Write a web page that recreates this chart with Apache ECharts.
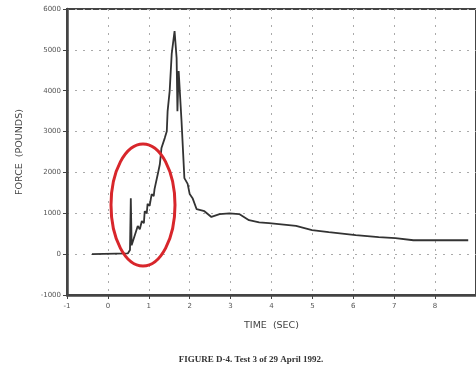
<!DOCTYPE html>
<html><head><meta charset="utf-8">
<script src="https://cdn.jsdelivr.net/npm/echarts@6/dist/echarts.min.js"></script>
<style>html,body{margin:0;padding:0;background:#fff}#c{width:476px;height:368px}</style>
</head><body><div id="c"></div>
<script>
const timeSec = [-0.39,0.49,0.54,0.56,0.58,0.61,0.73,0.78,0.83,0.88,0.90,0.95,0.97,1.02,1.07,1.12,1.14,1.22,1.27,1.31,1.39,1.44,1.46,1.51,1.56,1.63,1.68,1.70,1.73,1.80,1.87,1.95,2.00,2.07,2.17,2.36,2.53,2.73,2.97,3.21,3.45,3.70,3.94,4.18,4.60,4.99,5.40,6.06,6.62,7.03,7.47,8.00,8.81];
const forceLb = [0,20,100,1370,220,200,690,610,810,760,1050,1000,1230,1180,1470,1420,1590,1960,2200,2600,2840,3010,3500,3990,4900,5460,4800,3500,4480,3260,1860,1720,1470,1370,1100,1050,910,980,1000,980,830,780,760,735,690,590,540,465,415,390,340,340,340];
const yTicks = [-1000,0,1000,2000,3000,4000,5000,6000];
const xTicks = [-1,0,1,2,3,4,5,6,7,8];
const pts = timeSec.map((t,i)=>[t, forceLb[i]]);
const chart = echarts.init(document.getElementById('c'));
const lbl = {color:'#555', fontSize:7, fontFamily:'DejaVu Sans'};
const dotted = {show:true, lineStyle:{color:'#aaa', type:[2,6], width:1}};
chart.setOption({
  animation:false,
  backgroundColor:'#fff',
  grid:{left:67, right:0, top:9, bottom:73, show:true, borderColor:'#444', borderWidth:2, backgroundColor:'transparent'},
  title:{text:'FIGURE D-4. Test 3 of 29 April 1992.', left:246, top:350, textAlign:'center',
    textStyle:{fontSize:9, fontWeight:'bold', color:'#333', fontFamily:'Liberation Serif'}},
  xAxis:{type:'value', min:-1, max:9, interval:1,
    name:'TIME  (SEC)', nameLocation:'middle', nameGap:26,
    nameTextStyle:{color:'#444', fontSize:9.5, fontFamily:'DejaVu Sans'},
    axisLine:{onZero:false, lineStyle:{color:'#444', width:2.5}},
    axisTick:{show:true, inside:false, length:4, lineStyle:{color:'#444'}},
    axisLabel:Object.assign({margin:8, showMaxLabel:false, formatter:v=> xTicks.includes(v)? String(v):''}, lbl),
    splitLine:dotted},
  yAxis:{type:'value', min:-1000, max:6000, interval:1000,
    name:'FORCE  (POUNDS)', nameLocation:'middle', nameGap:42,
    nameTextStyle:{color:'#444', fontSize:9.5, fontFamily:'DejaVu Sans'},
    axisLine:{show:true, onZero:false, lineStyle:{color:'#444', width:2.5}},
    axisTick:{show:true, length:4, lineStyle:{color:'#444'}},
    axisLabel:Object.assign({margin:6, formatter:v=> yTicks.includes(v)? String(v):''}, lbl),
    splitLine:dotted},
  graphic:[{type:'ellipse', shape:{cx:143, cy:205, rx:32, ry:61},
    style:{fill:'none', stroke:'#d8262b', lineWidth:3}, z:100}],
  series:[{type:'line', data:pts, showSymbol:false, symbol:'none',
    lineStyle:{color:'#333', width:1.8}}]
});
</script></body></html>
